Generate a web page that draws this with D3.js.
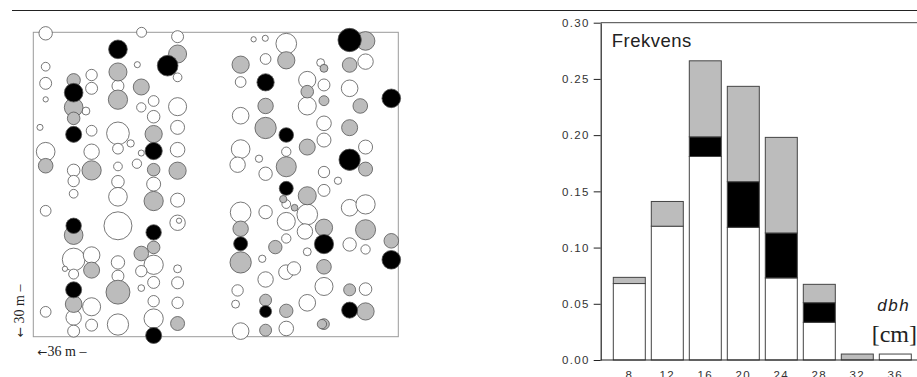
<!DOCTYPE html>
<html>
<head>
<meta charset="utf-8">
<script src="https://cdn.jsdelivr.net/npm/d3@7/dist/d3.min.js"></script>
<style>
  html, body { margin: 0; padding: 0; background: #fff; }
  svg { display: block; }
</style>
</head>
<body>
<svg id="chart" width="917" height="377"></svg>
<script>
// ---- Stem map data: [x (m), y (m from top), symbol radius (m)] ----
const whiteTrees = [
  [1.22,0.10,0.66],[1.22,3.39,0.43],[1.22,5.03,0.59],[1.22,6.61,0.26],[0.66,9.37,0.30],
  [1.22,11.77,0.92],[1.22,17.59,0.53],[1.22,27.55,0.53],
  [5.19,7.76,0.39],[3.98,13.61,0.62],[3.98,14.66,0.56],[3.98,15.91,0.43],[3.98,22.39,1.12],
  [3.12,23.31,0.26],[3.98,23.83,0.49],[3.98,28.11,0.76],[3.98,29.45,0.59],
  [5.75,4.21,0.56],[5.75,5.52,0.59],[5.75,9.70,0.53],[5.75,11.77,0.76],[5.75,21.96,0.82],
  [5.75,27.05,0.89],[5.75,28.86,0.59],
  [8.35,5.29,0.59],[8.35,9.96,1.12],[9.60,10.95,0.36],[8.35,11.47,0.53],[8.35,13.22,0.43],
  [8.35,14.73,0.62],[8.35,16.21,0.92],[8.35,19.07,1.38],[8.35,22.68,0.66],[8.35,24.03,0.59],
  [8.35,28.80,1.05],
  [10.68,0.00,0.49],[10.26,3.19,0.30],[10.65,7.40,0.46],[11.87,6.77,0.53],[11.87,8.32,0.62],
  [10.65,11.90,0.30],[10.22,12.95,0.46],[11.87,14.96,0.69],[11.87,22.91,0.95],[10.65,23.54,0.56],
  [11.87,24.65,0.59],[10.65,25.21,0.33],[11.87,26.50,0.56],[11.87,28.21,0.95],
  [14.23,0.43,0.59],[14.23,4.44,0.43],[14.23,7.33,0.89],[14.23,9.37,0.69],[14.23,11.57,0.72],
  [14.23,16.54,0.69],[14.23,18.77,0.76],[14.37,18.57,0.26],[14.23,23.31,0.39],[14.23,24.69,0.59],
  [14.23,26.66,0.56],
  [20.45,4.90,0.53],[20.45,8.22,0.82],[20.45,11.51,0.92],[20.15,13.05,0.76],[20.45,17.75,1.02],
  [20.15,25.44,0.56],[19.95,26.79,0.39],[20.45,29.45,0.82],
  [21.73,0.69,0.26],[22.88,0.59,0.30],[22.91,2.63,0.53],[22.26,12.46,0.36],[22.91,13.94,0.66],
  [22.91,17.72,0.66],[22.58,22.32,0.36],[22.91,24.36,0.76],
  [24.95,1.12,1.02],[24.95,11.77,0.46],[24.95,16.93,0.43],[24.95,18.64,0.89],[24.95,20.32,0.46],
  [24.92,23.64,0.72],[25.71,23.27,0.66],[24.95,29.19,0.72],
  [28.34,2.99,0.39],[27.02,4.70,0.85],[27.02,7.26,0.89],[28.67,5.19,0.59],[28.67,8.97,0.72],
  [28.67,10.62,0.69],[28.67,13.77,0.56],[30.05,14.63,0.36],[28.67,15.58,0.59],[27.02,17.95,1.02],
  [26.79,19.63,0.76],[27.02,21.63,0.39],[28.67,25.05,0.89],[27.02,26.66,0.82],
  [32.77,2.89,0.76],[31.20,5.52,0.82],[32.77,11.31,0.69],[31.20,17.29,0.82],[32.77,16.96,0.95],
  [31.20,20.91,0.66],[32.77,21.40,0.46],[32.77,25.31,0.62]
];
const greyTrees = [
  [1.22,13.15,0.72],[3.98,4.73,0.66],[3.98,7.40,0.92],[3.98,8.48,0.62],[3.98,19.99,0.92],
  [3.98,26.79,0.82],[5.75,13.61,0.95],[5.75,23.44,0.79],[8.35,3.91,0.89],[8.35,6.64,0.95],
  [8.35,25.61,1.18],[10.65,5.39,0.79],[11.87,10.03,0.85],[11.87,13.54,0.62],[11.87,16.63,0.95],
  [11.87,21.20,0.62],[10.65,21.80,0.72],[14.23,2.14,0.89],[14.23,13.64,0.85],[14.23,28.70,0.69],
  [20.45,3.19,0.85],[20.45,19.36,0.76],[20.45,22.68,1.05],[22.91,7.26,0.76],[22.91,9.43,1.05],
  [22.91,26.40,0.59],[22.91,29.36,0.59],[24.95,2.76,0.85],[24.95,13.25,0.99],[24.65,16.44,0.36],
  [25.77,17.29,0.33],[23.87,21.17,0.66],[24.95,27.45,0.66],[28.67,3.55,0.39],[27.02,5.85,0.62],
  [28.67,6.74,0.49],[27.02,11.31,0.79],[27.02,16.11,0.89],[28.67,19.26,0.85],[28.67,23.11,0.72],
  [28.67,28.76,0.53],[28.47,28.76,0.46],[32.77,0.85,0.92],[31.20,3.22,0.72],[32.25,7.26,0.72],
  [31.20,9.40,0.79],[32.77,13.48,0.69],[32.77,19.46,0.99],[31.20,25.38,0.59],[32.77,27.51,0.85],
  [35.31,20.55,0.72]
];
const blackTrees = [
  [3.98,5.95,0.92],[3.98,10.06,0.79],[3.98,19.07,0.76],[3.98,25.38,0.79],[8.35,1.68,0.92],
  [11.87,11.70,0.85],[11.87,19.72,0.76],[11.87,29.88,0.79],[13.25,3.29,1.02],[20.45,20.84,0.69],
  [22.91,4.93,0.85],[22.91,27.51,0.59],[24.95,10.12,0.72],[24.95,15.38,0.69],[28.67,20.87,0.95],
  [31.20,0.76,1.15],[31.20,12.56,1.05],[31.20,27.38,0.79],[35.31,6.51,0.92],[35.31,22.42,0.92]
];
const plotWidthM = 36, plotHeightM = 30;

// ---- Histogram data ----
const dbhClasses = [8, 12, 16, 20, 24, 28, 32, 36];
const whiteFreq = [0.068, 0.119, 0.181, 0.118, 0.073, 0.0335, 0, 0.0053];
const blackFreq = [0, 0, 0.0175, 0.0406, 0.040, 0.0175, 0, 0];
const greyFreq  = [0.0055, 0.022, 0.0676, 0.0848, 0.085, 0.0163, 0.0053, 0];
const yTicks = [0, 0.05, 0.10, 0.15, 0.20, 0.25, 0.30];

const colors = { white: "#ffffff", grey: "#bcbcbc", black: "#000000" };

const svg = d3.select("#chart");
svg.append("rect").attr("width", 917).attr("height", 377).attr("fill", "#fff");

// top rule
svg.append("line").attr("x1", 12).attr("x2", 917).attr("y1", 10.5).attr("y2", 10.5)
  .attr("stroke", "#222").attr("stroke-width", 1.2);

// ---- Stem map ----
const mx = d3.scaleLinear().domain([0, plotWidthM]).range([33.3, 398.3]);
const my = d3.scaleLinear().domain([0, plotHeightM]).range([32.3, 336.7]);
const mr = v => mx(v) - mx(0);

svg.append("rect")
  .attr("x", mx(0)).attr("y", my(0))
  .attr("width", mx(plotWidthM) - mx(0)).attr("height", my(plotHeightM) - my(0))
  .attr("fill", "none").attr("stroke", "#9a9a9a").attr("stroke-width", 1);

const groups = [[whiteTrees, colors.white], [greyTrees, colors.grey], [blackTrees, colors.black]];
groups.forEach(([data, fill]) => {
  svg.append("g").selectAll("circle").data(data).join("circle")
    .attr("cx", d => mx(d[0])).attr("cy", d => my(d[1])).attr("r", d => mr(d[2]))
    .attr("fill", fill).attr("stroke", "#555").attr("stroke-width", 0.8);
});

const lab1 = svg.append("text")
  .attr("x", 37.5).attr("y", 356)
  .attr("font-family", "Liberation Serif, serif").attr("font-size", 14).attr("fill", "#222");
lab1.append("tspan").attr("font-family", "DejaVu Sans, sans-serif").attr("font-size", 12).text("←");
lab1.append("tspan").text("36 m –");

const lab2 = svg.append("text")
  .attr("transform", "translate(23.5,337) rotate(-90)")
  .attr("font-family", "Liberation Serif, serif").attr("font-size", 14).attr("fill", "#222");
lab2.append("tspan").attr("font-family", "DejaVu Sans, sans-serif").attr("font-size", 12).text("←");
lab2.append("tspan").text(" 30 m –");

// ---- Histogram ----
const x = d3.scaleBand().domain(dbhClasses).range([610.3, 914.3])
  .paddingInner(0.158).paddingOuter(0.079);
const y = d3.scaleLinear().domain([0, 0.30]).range([360, 22.7]);

const rows = dbhClasses.map((c, i) => ({ dbh: c, white: whiteFreq[i], black: blackFreq[i], grey: greyFreq[i] }));
const stack = d3.stack().keys(["white", "black", "grey"])(rows);

const barG = svg.append("g");
stack.forEach(layer => {
  barG.append("g").selectAll("rect").data(layer.filter(d => d[1] - d[0] > 0)).join("rect")
    .attr("x", d => x(d.data.dbh)).attr("width", x.bandwidth())
    .attr("y", d => y(d[1])).attr("height", d => y(d[0]) - y(d[1]))
    .attr("fill", colors[layer.key]).attr("stroke", "#444").attr("stroke-width", 1);
});

const axisX0 = 600.7;
svg.append("line").attr("x1", axisX0).attr("x2", 917).attr("y1", y(0.30)).attr("y2", y(0.30))
  .attr("stroke", "#444").attr("stroke-width", 1);
svg.append("line").attr("x1", axisX0).attr("x2", 917).attr("y1", y(0)).attr("y2", y(0))
  .attr("stroke", "#222").attr("stroke-width", 1.2);

const yAxis = svg.append("g").attr("transform", `translate(${axisX0},0)`)
  .call(d3.axisLeft(y).tickValues(yTicks).tickFormat(d3.format(".2f"))
    .tickSize(7).tickSizeOuter(0).tickPadding(4));
yAxis.select(".domain").attr("stroke", "#222").attr("stroke-width", 1.2);
yAxis.selectAll(".tick line").attr("stroke", "#222");
yAxis.selectAll("text").attr("font-family", "Liberation Sans, Arial, sans-serif")
  .attr("font-size", 11.5).attr("letter-spacing", 1.3).attr("fill", "#333");

const xAxis = svg.append("g").attr("transform", `translate(0,${y(0)})`)
  .call(d3.axisBottom(x).tickSize(0).tickPadding(10.7));
xAxis.select(".domain").remove();
xAxis.selectAll("text").attr("font-family", "Liberation Sans, Arial, sans-serif")
  .attr("font-size", 11.5).attr("letter-spacing", 1.3).attr("fill", "#333");

svg.append("text").attr("x", 611.7).attr("y", 46.7)
  .attr("font-family", "Liberation Sans, Arial, sans-serif").attr("font-size", 18.5)
  .attr("letter-spacing", 0.5).attr("fill", "#222").text("Frekvens");

svg.append("text").attr("x", 877.3).attr("y", 311)
  .attr("font-family", "Liberation Sans, Arial, sans-serif").attr("font-style", "italic")
  .attr("font-size", 17).attr("letter-spacing", 1.5).attr("fill", "#222").text("dbh");
svg.append("text").attr("x", 871.7).attr("y", 341.7)
  .attr("font-family", "Liberation Serif, serif").attr("font-size", 24).attr("fill", "#222")
  .text("[cm]");
</script>
</body>
</html>
